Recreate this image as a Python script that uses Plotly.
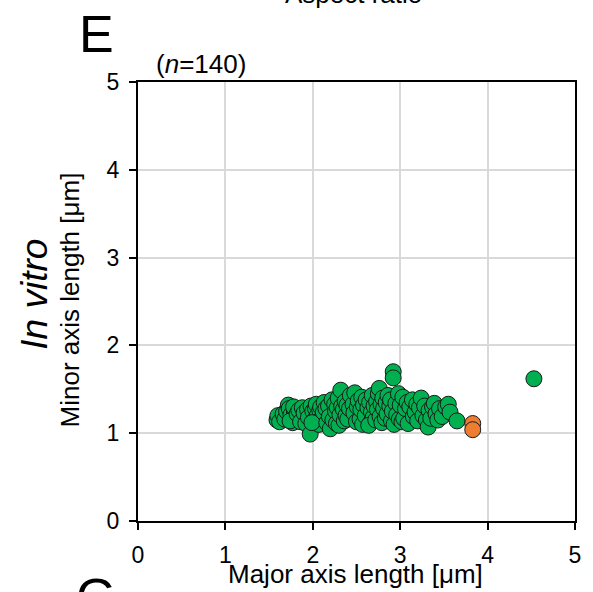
import plotly.graph_objects as go

# Cells measured in vitro: major / minor axis length (µm)
green_major = [
    1.59, 1.60, 1.62, 1.66, 1.68, 1.70, 1.72, 1.73, 1.75, 1.77, 1.79, 1.80, 1.78, 1.74,
    1.82, 1.84, 1.86, 1.88, 1.90, 1.92, 1.94, 1.95, 1.97, 1.98, 2.00, 2.01, 2.03, 2.04,
    2.05, 2.07, 2.08, 2.09, 2.10, 1.99,
    2.12, 2.13, 2.15, 2.16, 2.18, 2.19, 2.20, 2.22, 2.23, 2.25, 2.26, 2.27, 2.28, 2.29,
    2.30, 2.31, 2.32, 2.33, 2.35, 2.36, 2.37, 2.38, 2.39, 2.40,
    2.42, 2.43, 2.46, 2.47, 2.48, 2.50, 2.51, 2.52, 2.54, 2.55, 2.56, 2.57, 2.58, 2.60,
    2.61, 2.63, 2.65, 2.66, 2.67, 2.68, 2.69, 2.70, 2.64,
    2.72, 2.73, 2.74, 2.75, 2.76, 2.77, 2.78, 2.79, 2.80, 2.81, 2.83, 2.84, 2.85, 2.86,
    2.88, 2.89, 2.90, 2.91, 2.92, 2.92, 2.93, 2.95, 2.96, 2.98, 2.99,
    3.00, 3.02, 3.03, 3.04, 3.06, 3.08, 3.09, 3.11, 3.14, 3.15, 3.17, 3.19, 3.20, 3.22,
    3.24, 3.26, 3.28, 3.30,
    3.32, 3.33, 3.35, 3.37, 3.39, 3.41, 3.43, 3.45, 3.48, 3.52, 3.55, 3.57, 3.65,
    4.53,
]
green_minor = [
    1.15, 1.20, 1.13, 1.22, 1.16, 1.25, 1.32, 1.28, 1.21, 1.12, 1.24, 1.27, 1.30, 1.14,
    1.22, 1.26, 1.13, 1.29, 1.23, 1.11, 1.27, 1.18, 0.99, 1.31, 1.25, 1.14, 1.28, 1.33,
    1.20, 1.10, 1.26, 1.30, 1.17, 1.12,
    1.24, 1.35, 1.28, 1.12, 1.31, 1.19, 1.05, 1.38, 1.15, 1.33, 1.25, 1.11, 1.29, 1.40,
    1.09, 1.21, 1.49, 1.31, 1.27, 1.14, 1.36, 1.20, 1.32, 1.16,
    1.28, 1.43, 1.33, 1.23, 1.46, 1.13, 1.30, 1.37, 1.16, 1.27, 1.41, 1.10, 1.32, 1.20,
    1.38, 1.29, 1.35, 1.12, 1.24, 1.43, 1.18, 1.31, 1.09,
    1.15, 1.36, 1.27, 1.45, 1.51, 1.19, 1.33, 1.12, 1.40, 1.28, 1.17, 1.35, 1.22, 1.43,
    1.31, 1.38, 1.14, 1.25, 1.70, 1.63, 1.10, 1.34, 1.21, 1.45, 1.16,
    1.32, 1.13, 1.41, 1.17, 1.28, 1.35, 1.11, 1.30, 1.38, 1.19, 1.24, 1.33, 1.14, 1.29,
    1.40, 1.20, 1.31, 1.15,
    1.07, 1.26, 1.17, 1.30, 1.34, 1.22, 1.15, 1.28, 1.19, 1.30, 1.33, 1.24, 1.14,
    1.62,
]
orange_major = [3.83, 3.83]
orange_minor = [1.11, 1.04]

axis_ticks = [0, 1, 2, 3, 4, 5]
n_total = len(green_major) + len(orange_major)

FONT = "Arial, Liberation Sans, sans-serif"
marker_line = dict(color="#1a1a1a", width=1)

fig = go.Figure()
fig.add_trace(go.Scatter(
    x=green_major, y=green_minor, mode="markers",
    marker=dict(size=16, color="#00B050", line=marker_line),
    showlegend=False,
))
fig.add_trace(go.Scatter(
    x=orange_major, y=orange_minor, mode="markers",
    marker=dict(size=16, color="#ED7D31", line=marker_line),
    showlegend=False,
))

L, R, T, B = 138, 15, 82, 71
W, H = 593, 592
PW, PH = W - L - R, H - T - B


def px(xp):
    return (xp - L) / PW


def py(yp):
    return (H - B - yp) / PH


axis_common = dict(
    range=[0, 5], tickvals=axis_ticks, showline=True, linewidth=2, linecolor="black",
    mirror=True, ticks="outside", ticklen=7, tickwidth=1.5, tickcolor="black",
    showgrid=True, gridcolor="#d9d9d9", gridwidth=2, zeroline=False,
    tickfont=dict(family=FONT, size=23, color="black"), fixedrange=True,
)

fig.update_xaxes(**axis_common, ticklabelstandoff=5)
fig.update_yaxes(**axis_common, ticklabelstandoff=5)

annotations = [
    dict(text="Aspect ratio", x=px(355), y=py(-6), font=dict(size=26)),
    dict(text="E", x=px(96), y=py(34), font=dict(size=52)),
    dict(text="G", x=px(96), y=py(597), font=dict(size=52)),
    dict(text=f"(<i>n</i>={n_total})", x=px(154), y=py(64), xanchor="left",
         font=dict(size=26)),
    dict(text="<i>In vitro</i>", x=px(33), y=py(294), textangle=-90,
         font=dict(size=37)),
    dict(text="Minor axis length [μm]", x=px(70), y=py(300), textangle=-90,
         font=dict(size=26)),
    dict(text="Major axis length [μm]", x=px(357), y=py(574), font=dict(size=26)),
]
for a in annotations:
    a.setdefault("xanchor", "center")
    a.setdefault("yanchor", "middle")
    a["font"] = dict(family=FONT, color="black", **a["font"])
    fig.add_annotation(xref="paper", yref="paper", showarrow=False, **a)

fig.update_layout(
    width=W, height=H, margin=dict(l=L, r=R, t=T, b=B),
    paper_bgcolor="white", plot_bgcolor="white",
    font=dict(family=FONT, color="black"),
)

fig.write_html("out.html", config={"displayModeBar": False})
